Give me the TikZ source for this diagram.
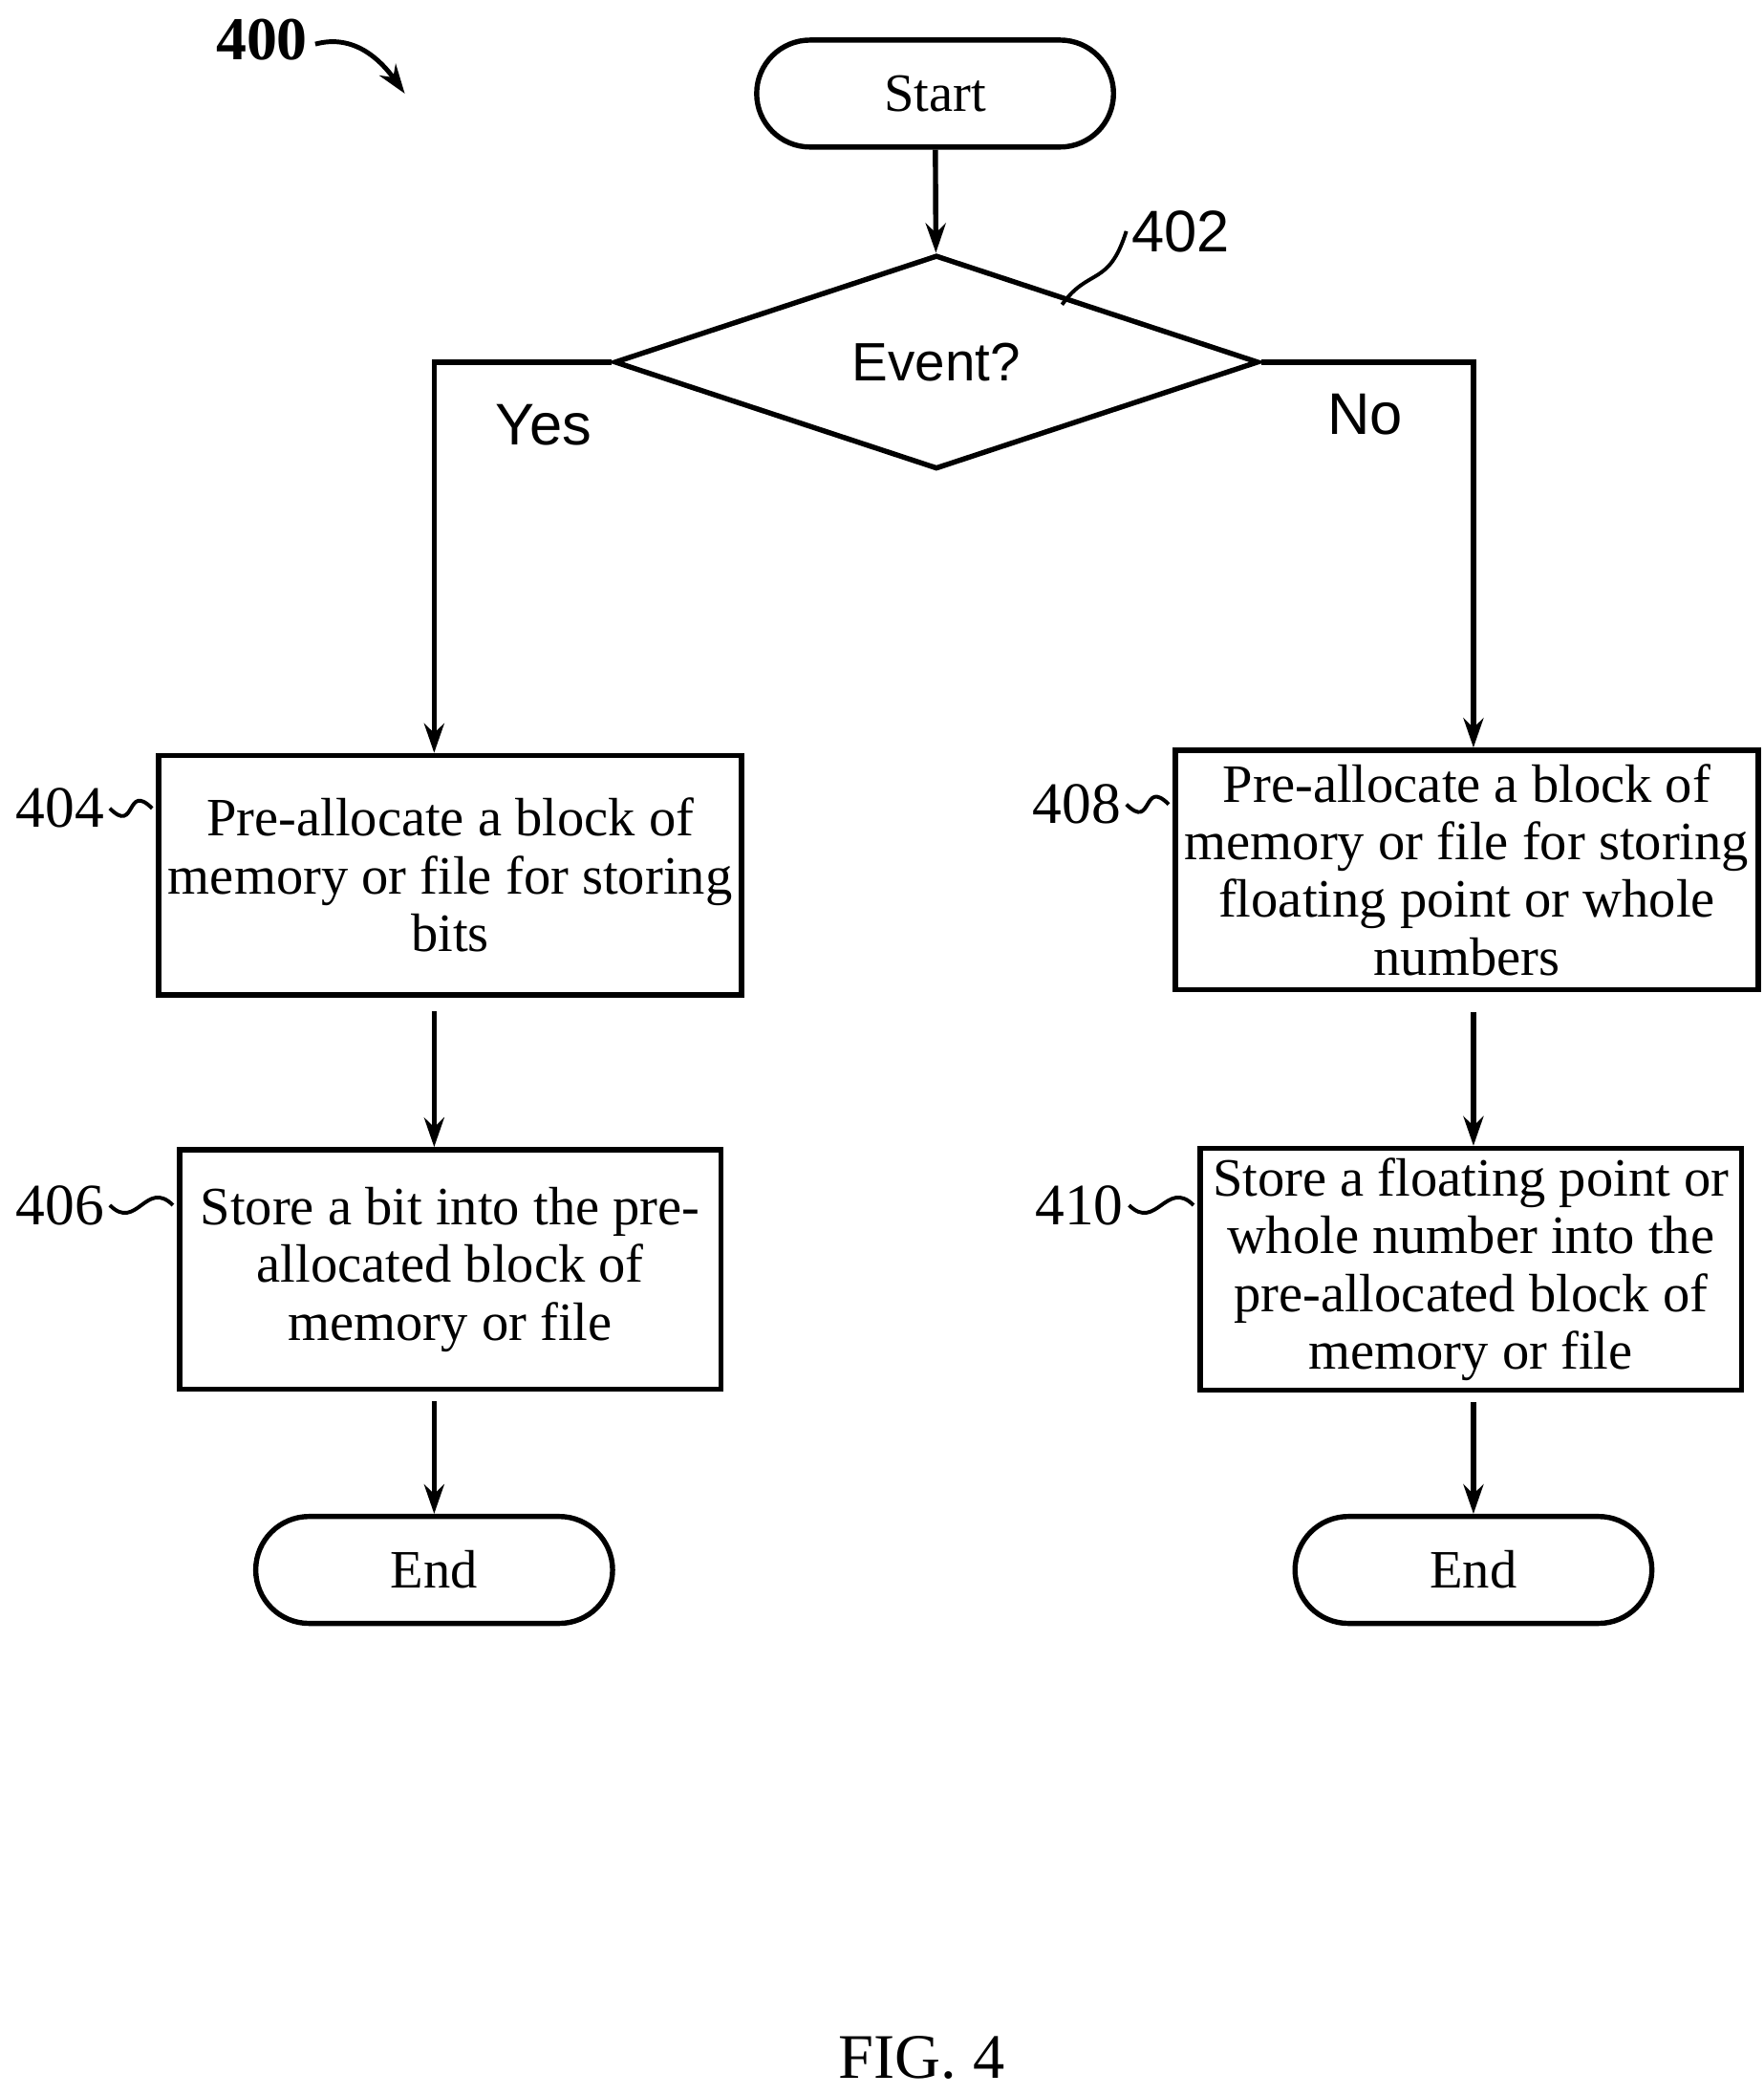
\documentclass[tikz,border=0pt]{standalone}
\usepackage{fontspec}
\setmainfont{Liberation Serif}
\newfontfamily\arialfont{Liberation Sans}
\usetikzlibrary{arrows.meta,positioning,shapes.geometric,calc}

\begin{document}
\begin{tikzpicture}[x=0.01cm, y=-0.01cm,
    term/.style={rectangle, draw, line width=1.1pt, rounded corners=0.4cm, minimum width=2.67cm, minimum height=0.8cm, font=\fontsize{11.5}{14}\selectfont},
    box/.style={rectangle, draw, line width=1.1pt, minimum width=4.05cm, minimum height=1.79cm, align=center, inner sep=2pt, font=\fontsize{11.5}{12.3}\selectfont},
    decision/.style={diamond, draw, line width=1.1pt, minimum width=4.82cm, minimum height=1.6cm, aspect=3, inner sep=0pt, font=\arialfont\fontsize{11.5}{14}\selectfont},
    arrow/.style={-{Stealth[length=0.22cm, width=0.15cm]}, line width=1.1pt},
    ref/.style={font=\fontsize{12.5}{14}\selectfont, inner sep=1pt},
    squiggle/.style={line width=0.8pt}
]
    \useasboundingbox (0,0) rectangle (1320,1568);

    % Figure number
    \node[font=\bfseries\fontsize{13}{15}\selectfont] (fig) at (196,30) {400};
    \draw[arrow, line width=1pt] (236,33) .. controls (265,25) and (285,45) .. (303,70);

    % Flow nodes
    \node[term] (start) at (700,70) {Start};
    \node[decision] (event) at (701,271) {Event?};
    \node[box] (b404) at (337,655) {Pre-allocate a block of\\memory or file for storing\\bits};
    \node[box] (b406) at (337,950) {Store a bit into the pre-\\allocated block of\\memory or file};
    \node[box] (b408) at (1098,651) {Pre-allocate a block of\\memory or file for storing\\floating point or whole\\numbers};
    \node[box] (b410) at (1101,950) {Store a floating point or\\whole number into the\\pre-allocated block of\\memory or file};
    \node[term] (endl) at (325,1175) {End};
    \node[term] (endr) at (1103,1175) {End};

    % Arrows
    \draw[arrow] (start) -- (event);
    \draw[arrow] (event.west) -| ($(b404.north)+(-12,0)$);
    \draw[arrow] (event.east) -| ($(b408.north)+(5,0)$);
    \draw[arrow] ($(b404.south)+(-12,10)$) -- ($(b406.north)+(-12,0)$);
    \draw[arrow] ($(b408.south)+(5,15)$) -- ($(b410.north)+(2,0)$);
    \draw[arrow] ($(b406.south)+(-12,7)$) -- (endl);
    \draw[arrow] ($(b410.south)+(2,7)$) -- (endr);

    % Branch labels
    \node[font=\arialfont\fontsize{12.5}{14}\selectfont] (yes) at (407,318) {Yes};
    \node[font=\arialfont\fontsize{12.5}{14}\selectfont] (no) at (1022,310) {No};

    % Reference numerals
    \node[ref, font=\arialfont\fontsize{12.5}{14}\selectfont] (r402) at (884,173) {402};
    \draw[squiggle] (795,228) .. controls (815,200) and (830,215) .. (r402.west);
    \node[ref] (r404) at (45,605) {404};
    \draw[squiggle] (r404.east) .. controls +(20,20) and +(-20,-20) .. ($(b404.west)+(-3,-50)$);
    \node[ref] (r406) at (45,902) {406};
    \draw[squiggle] (r406.east) .. controls +(20,20) and +(-20,-20) .. ($(b406.west)+(-3,-48)$);
    \node[ref] (r408) at (806,602) {408};
    \draw[squiggle] (r408.east) .. controls +(20,20) and +(-20,-20) .. ($(b408.west)+(-3,-49)$);
    \node[ref] (r410) at (808,902) {410};
    \draw[squiggle] (r410.east) .. controls +(20,20) and +(-20,-20) .. ($(b410.west)+(-3,-48)$);

    \node[font=\fontsize{13.5}{15}\selectfont] (caption) at (690,1540) {FIG. 4};
\end{tikzpicture}
\end{document}
